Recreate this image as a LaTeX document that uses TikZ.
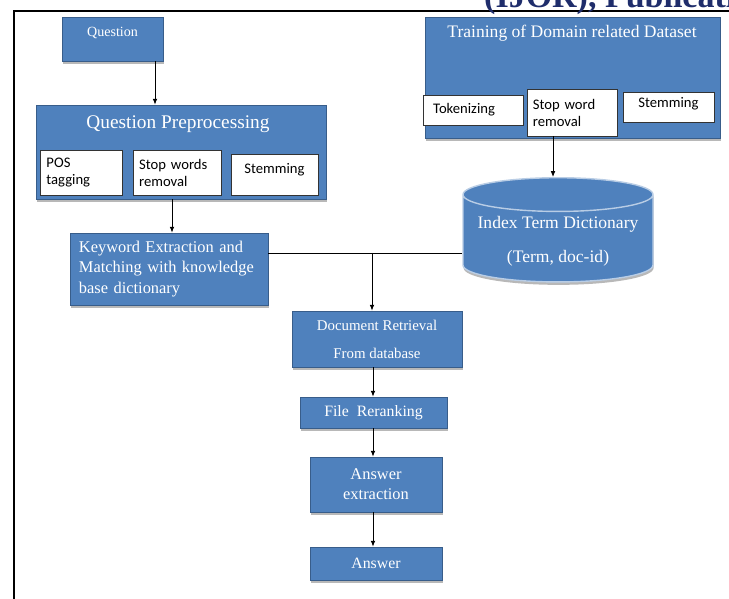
\documentclass[tikz,border=0pt]{standalone}
\usepackage{fontspec}
\setmainfont{Liberation Serif}
\newfontfamily\carlito{Carlito}
\usetikzlibrary{arrows.meta,positioning,shapes.geometric,shadows}
\definecolor{boxblue}{HTML}{4F81BD}
\definecolor{boxedge}{HTML}{385D8A}
\definecolor{headnavy}{HTML}{1F2D6B}

\begin{document}
\begin{tikzpicture}[x=0.03cm,y=-0.03cm,
  bluebox/.style={draw=boxedge,fill=boxblue,text=white,line width=0.6pt,
                  drop shadow={shadow xshift=0.5pt,shadow yshift=-2.5pt,fill=gray!70,opacity=0.8},
                  font=\fontsize{12}{14}\selectfont},
  subbox/.style={draw=black!80,fill=white,line width=0.6pt,align=left,inner xsep=5pt,inner ysep=3pt,
                 font=\carlito\fontsize{12.5}{14.5}\selectfont},
  boxtitle/.style={text=white,inner sep=1pt},
  arr/.style={-{Latex[length=5pt,width=4pt]},line width=0.7pt},
  link/.style={line width=0.7pt},
]
  \useasboundingbox (0,0) rectangle (729,599);
  \clip (0,0) rectangle (729,599);

  % page frame and running head
  \draw[line width=2.5pt] (14,599) -- (14,11) -- (729,11);
  \node[anchor=base west,inner sep=0pt,text=headnavy,font=\bfseries\fontsize{29}{30}\selectfont] (head) at (484,8) {(IJOR), Publication};

  % question side
  \node[bluebox,minimum width=3.03cm,minimum height=1.32cm,text height=9pt,text depth=14pt] (question) at (112.5,39) {Question};
  \node[bluebox,minimum width=8.7cm,minimum height=2.82cm] (qprep) at (181,152) {};
  \node[boxtitle,font=\fontsize{16.5}{18}\selectfont] (qptitle) at (178,124) {Question Preprocessing};
  \node[subbox,text width=2.1cm,minimum height=1.35cm] (pos) at (81.5,172.5) {POS\\tagging};
  \node[subbox,text width=2.3cm,minimum height=1.35cm] (stopq) at (177.5,172.5) {Stop words\\removal};
  \node[subbox,text width=2.25cm,minimum height=1.23cm,align=center,text depth=10pt] (stemq) at (274.5,174.5) {Stemming};

  % training side
  \node[bluebox,minimum width=8.85cm,minimum height=3.63cm] (training) at (572.5,77.5) {};
  \node[boxtitle,font=\fontsize{15}{17}\selectfont] (trtitle) at (572,33) {Training of Domain related Dataset};
  \node[subbox,text width=2.42cm,minimum height=0.9cm,inner xsep=8pt] (tok) at (473.5,110) {Tokenizing};
  \node[subbox,text width=2.35cm,minimum height=1.41cm] (stopt) at (572,112.5) {Stop word\\removal};
  \node[subbox,text width=2.37cm,minimum height=0.9cm,align=center,text depth=7pt] (stemt) at (668.5,107) {Stemming};

  % middle row
  \node[bluebox,minimum width=5.94cm,minimum height=2.16cm,text width=5.4cm,align=left,
        font=\fontsize{14}{17.5}\selectfont] (kw) at (169,269) {Keyword Extraction and\\Matching with knowledge\\base dictionary};
  \node[cylinder,shape border rotate=90,aspect=0.2,draw=white!60!boxblue,line width=1.2pt,fill=boxblue,
        drop shadow={shadow xshift=0.5pt,shadow yshift=-2.5pt,fill=gray!70,opacity=0.8},
        minimum width=5.7cm,minimum height=2.76cm,text=white,align=center,
        font=\fontsize{15}{17}\selectfont] (dict) at (558,241) {Index Term Dictionary\\[12pt](Term, doc-id)};

  % retrieval chain
  \node[bluebox,minimum width=5.1cm,minimum height=1.68cm,align=center,font=\fontsize{12.7}{14}\selectfont] (docret) at (377,339) {Document Retrieval\\[10pt]From database};
  \node[bluebox,minimum width=4.41cm,minimum height=0.93cm,font=\fontsize{13.5}{15}\selectfont] (rerank) at (373.5,412.5) {File\ \ Reranking};
  \node[bluebox,minimum width=3.96cm,minimum height=1.65cm,align=center,font=\fontsize{14}{17}\selectfont] (ansext) at (376,484.5) {Answer\\extraction};
  \node[bluebox,minimum width=3.96cm,minimum height=0.99cm,font=\fontsize{13.5}{15}\selectfont] (ans) at (376,563.5) {Answer};

  % connectors
  \coordinate (qa) at (155,0);
  \coordinate (ka) at (172,0);
  \coordinate (da) at (553,0);
  \coordinate (ya) at (0,253);
  \coordinate (ja) at (372,253);
  \coordinate (ra) at (373,0);
  \draw[arr] (question.south -| qa) -- (qprep.north -| qa);
  \draw[arr] (qprep.south -| ka) -- (kw.north -| ka);
  \draw[arr] (stopt.south -| da) -- (dict.north -| da);
  \draw[link] (kw.east |- ya) -- (dict.west |- ya);
  \draw[arr] (ja) -- (docret.north -| ja);
  \draw[arr] (docret.south -| ra) -- (rerank.north -| ra);
  \draw[arr] (rerank.south -| ra) -- (ansext.north -| ra);
  \draw[arr] (ansext.south -| ra) -- (ans.north -| ra);
\end{tikzpicture}
\end{document}
